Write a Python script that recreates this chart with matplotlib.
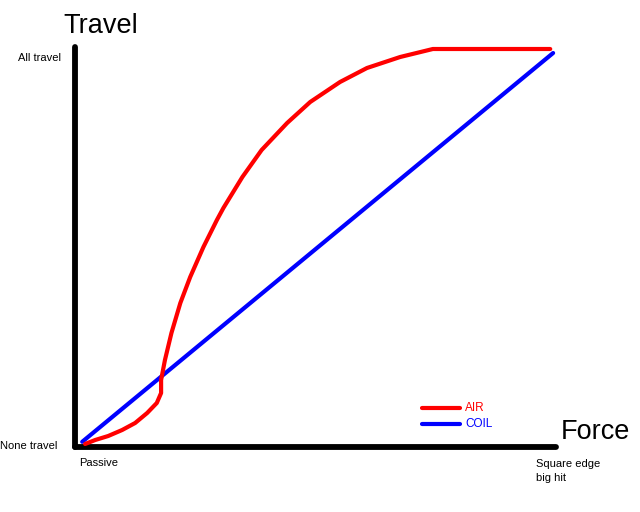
import matplotlib.pyplot as plt

plt.rcParams['font.family'] = ['Liberation Sans', 'DejaVu Sans']

# Force (0 = passive, 100 = square edge big hit) vs travel (0 = none, 100 = all)
air_force = [2.1, 4.2, 6.9, 9.8, 12.5, 15.0, 17.0, 17.9, 17.9, 17.9, 18.7, 20.05, 21.9, 23.95, 26.7,
             29.5, 30.85, 34.8, 38.8, 44.1, 48.9, 55.1, 60.7, 67.6, 74.4, 98.8]
air_travel = [0.75, 1.75, 2.75, 4.25, 6.0, 8.5, 11.0, 13.5, 15.5, 16.75, 21.75, 28.5, 36.0, 42.5, 50.0,
              56.75, 59.75, 67.5, 74.25, 81.0, 86.25, 91.25, 94.75, 97.5, 99.5, 99.5]
coil_force = [1.5, 99.4]
coil_travel = [1.3, 98.5]

W, H = 640, 512


def px(x, y):
    return x / W, 1 - y / H


fig = plt.figure(figsize=(6.4, 5.12), dpi=100)
ax = fig.add_axes([75 / W, 1 - 447 / H, 481 / W, 400 / H])
ax.set_xlim(0, 100)
ax.set_ylim(0, 100)
ax.set_xticks([])
ax.set_yticks([])
for s in ['top', 'right']:
    ax.spines[s].set_visible(False)
for s in ['left', 'bottom']:
    ax.spines[s].set_linewidth(4.2)
    ax.spines[s].set_color('black')
    ax.spines[s].set_capstyle('round')

ax.plot(coil_force, coil_travel, color='#0000ff', lw=3.0, solid_capstyle='round', clip_on=False, zorder=3)
ax.plot(air_force, air_travel, color='#ff0000', lw=3.0, solid_capstyle='round',
        solid_joinstyle='round', clip_on=False, zorder=4)

# legend drawn by hand, like the original
ax.plot([72.2, 80.0], [9.75, 9.75], color='#ff0000', lw=3.0, solid_capstyle='round', clip_on=False)
ax.plot([72.2, 80.0], [5.75, 5.75], color='#0000ff', lw=3.0, solid_capstyle='round', clip_on=False)
fig.text(*px(465, 408), 'AIR', color='#ff0000', fontsize=8.5, va='center')
fig.text(*px(465, 424), 'COIL', color='#0000ff', fontsize=8.5, va='center')

fig.text(*px(63, 26), 'Travel', fontsize=19.5, va='center', ha='left')
fig.text(*px(561, 432), 'Force', fontsize=19.5, va='center', ha='left')
fig.text(*px(18, 58), 'All travel', fontsize=8, va='center', ha='left')
fig.text(*px(0, 446), 'None travel', fontsize=8, va='center', ha='left')
fig.text(*px(79, 463), 'Passive', fontsize=8, va='center', ha='left')
fig.text(*px(536, 471), 'Square edge\nbig hit', fontsize=8, va='center', ha='left', linespacing=1.5)

fig.savefig('out.png', dpi=100)
